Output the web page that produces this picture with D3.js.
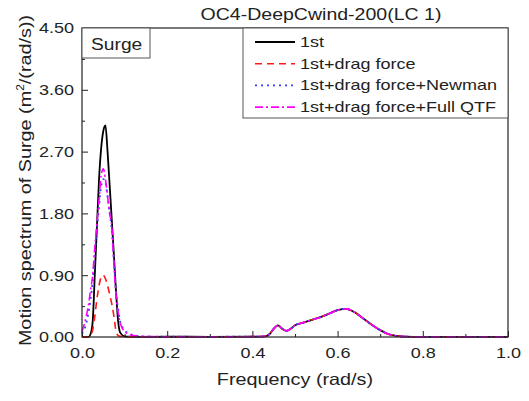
<!DOCTYPE html>
<html lang="en">
<head>
<meta charset="utf-8">
<title>OC4-DeepCwind-200(LC 1)</title>
<script src="https://cdn.jsdelivr.net/npm/d3@7"></script>
<style>
  body { margin: 0; background: #fff; }
  text { font-family: "Liberation Sans", Arial, sans-serif; fill: #222; }
</style>
</head>
<body>
<div id="chart"></div>
<script>
// frequency grid (rad/s): fine around the low-frequency peak, coarser later
var lowFreq  = [0, 0.01, 0.015, 0.02, 0.025, 0.03, 0.035, 0.04, 0.045, 0.05, 0.055,
                0.06, 0.065, 0.07, 0.075, 0.08, 0.085, 0.09, 0.1, 0.11, 0.12, 0.14];
var highFreq = [0.2, 0.3, 0.4, 0.43, 0.44, 0.45, 0.46, 0.47, 0.48, 0.49, 0.5, 0.52, 0.54,
                0.56, 0.58, 0.6, 0.62, 0.64, 0.66, 0.68, 0.7, 0.72, 0.74, 0.76, 0.8, 0.9, 1.0];

// spectrum values
var firstLow   = [0, 0, 0, 0.04, 0.22, 0.9, 1.6, 2.3, 2.75, 3.0, 3.08,
                  2.7, 2.2, 1.7, 1.18, 0.65, 0.22, 0.06, 0.01, 0.005, 0.003, 0.002];
var dragLow    = [0, 0, 0, 0.02, 0.1, 0.3, 0.55, 0.75, 0.87, 0.9, 0.85,
                  0.75, 0.62, 0.48, 0.3, 0.08, 0.02, 0.01, 0.005, 0.003, 0.002, 0.002];
var newmanLow  = [0.05, 0.2, 0.35, 0.55, 0.8, 1.2, 1.55, 1.9, 2.2, 2.3, 2.25,
                  2.05, 1.8, 1.55, 1.1, 0.65, 0.4, 0.22, 0.1, 0.05, 0.03, 0.01];
var fullQtfLow = [0.08, 0.3, 0.46, 0.68, 0.9, 1.3, 1.65, 2.0, 2.35, 2.45, 2.3,
                  2.05, 1.8, 1.6, 1.05, 0.6, 0.35, 0.2, 0.08, 0.04, 0.02, 0.01];
// wave-frequency hump, the same for all four cases
var waveHump   = [0.004, 0.003, 0.005, 0.01, 0.04, 0.12, 0.17, 0.12, 0.09, 0.12, 0.17, 0.21, 0.25,
                  0.29, 0.34, 0.39, 0.41, 0.36, 0.27, 0.18, 0.1, 0.04, 0.015, 0.005, 0.002, 0.001, 0];

var seriesNames = ["1st", "1st+drag force", "1st+drag force+Newman", "1st+drag force+Full QTF"];
var xTicks = [0, 0.2, 0.4, 0.6, 0.8, 1.0];
var yTicks = [0, 0.9, 1.8, 2.7, 3.6, 4.5];

var styles = [
  {color: "#000000", dash: null,        width: 1.8},
  {color: "#ff1a1a", dash: "7,5",       width: 1.6},
  {color: "#3d3dff", dash: "2,4",       width: 1.8},
  {color: "#ff00ff", dash: "8,3,2,3",   width: 1.6}
];

var freq = lowFreq.concat(highFreq);
var series = [firstLow, dragLow, newmanLow, fullQtfLow].map(function(low, i) {
  return {name: seriesNames[i], values: low.concat(waveHump)};
});

var w = 529, h = 401;
var margin = {left: 82, right: 21, top: 28, bottom: 64};
var width = w - margin.left - margin.right;
var height = h - margin.top - margin.bottom;

var svg = d3.select("#chart").append("svg")
  .attr("width", w)
  .attr("height", h);

var g = svg.append("g")
  .attr("transform", "translate(" + margin.left + "," + margin.top + ")");

var x = d3.scaleLinear().domain([0, 1]).range([0, width]);
var y = d3.scaleLinear().domain([0, 4.5]).range([height, 0]);

// widen text along its run, the source font is broader than Arial
function stretch(sel, k) {
  sel.each(function() {
    var len = this.getComputedTextLength();
    this.setAttribute("textLength", len * k);
    this.setAttribute("lengthAdjust", "spacingAndGlyphs");
  });
}

// minor ticks
g.append("g")
  .attr("transform", "translate(0," + height + ")")
  .call(d3.axisBottom(x).tickValues(d3.range(0.1, 1, 0.2)).tickSize(-3).tickFormat(""))
  .call(function(a) { a.select(".domain").remove(); });
g.append("g")
  .call(d3.axisLeft(y).tickValues(d3.range(0.45, 4.5, 0.9)).tickSize(-3).tickFormat(""))
  .call(function(a) { a.select(".domain").remove(); });

// major ticks + labels
var xAxis = g.append("g")
  .attr("transform", "translate(0," + height + ")")
  .call(d3.axisBottom(x).tickValues(xTicks).tickSize(-6).tickPadding(10).tickFormat(d3.format(".1f")));
var yAxis = g.append("g")
  .call(d3.axisLeft(y).tickValues(yTicks).tickSize(-6).tickPadding(8).tickFormat(d3.format(".2f")));

[xAxis, yAxis].forEach(function(a) {
  a.select(".domain").remove();
  a.selectAll("text")
    .attr("font-family", "Liberation Sans, Arial, sans-serif")
    .attr("font-size", 15)
    .attr("fill", "#222");
});
g.selectAll(".tick line").attr("stroke", "#222").attr("stroke-width", 1);
stretch(xAxis.selectAll("text"), 1.2);
stretch(yAxis.selectAll("text"), 1.2);

// lines
var line = d3.line()
  .x(function(d, i) { return x(freq[i]); })
  .y(function(d) { return y(d); })
  .curve(d3.curveMonotoneX);

g.append("g").attr("clip-path", null)
  .selectAll("path")
  .data(series)
  .enter()
  .append("path")
  .attr("d", function(d) { return line(d.values); })
  .attr("fill", "none")
  .attr("stroke", function(d, i) { return styles[i].color; })
  .attr("stroke-width", function(d, i) { return styles[i].width; })
  .attr("stroke-dasharray", function(d, i) { return styles[i].dash; });

// frame
g.append("rect")
  .attr("width", width)
  .attr("height", height)
  .attr("fill", "none")
  .attr("stroke", "#222")
  .attr("stroke-width", 1.2);

// "Surge" tag box
g.append("rect")
  .attr("width", 68)
  .attr("height", 30)
  .attr("fill", "#fff")
  .attr("stroke", "#555")
  .attr("stroke-width", 1);
var tag = g.append("text")
  .attr("x", 9)
  .attr("y", 22)
  .attr("font-size", 16)
  .text("Surge");
stretch(tag, 1.2);

// legend
var lg = g.append("g").attr("transform", "translate(" + (243 - margin.left) + ",0)");
lg.append("rect")
  .attr("width", width - (243 - margin.left))
  .attr("height", 90)
  .attr("fill", "#fff")
  .attr("stroke", "#555")
  .attr("stroke-width", 1);

var items = lg.selectAll(".item")
  .data(series)
  .enter()
  .append("g")
  .attr("class", "item")
  .attr("transform", function(d, i) { return "translate(0," + (14 + i * 21.7) + ")"; });

items.append("line")
  .attr("x1", 12)
  .attr("x2", 52)
  .attr("stroke", function(d, i) { return styles[i].color; })
  .attr("stroke-width", function(d, i) { return styles[i].width; })
  .attr("stroke-dasharray", function(d, i) { return styles[i].dash; });

var labels = items.append("text")
  .attr("x", 57)
  .attr("y", 5)
  .attr("font-size", 15)
  .text(function(d) { return d.name; });
stretch(labels, 1.2);

// title
var title = svg.append("text")
  .attr("x", 321)
  .attr("y", 20)
  .attr("text-anchor", "middle")
  .attr("font-size", 16)
  .text("OC4-DeepCwind-200(LC 1)");
stretch(title, 1.22);

// axis titles
var xLabel = svg.append("text")
  .attr("x", margin.left + width / 2)
  .attr("y", 385)
  .attr("text-anchor", "middle")
  .attr("font-size", 16.5)
  .text("Frequency (rad/s)");
stretch(xLabel, 1.2);

var yLabel = svg.append("text")
  .attr("transform", "translate(31," + (margin.top + height / 2 - 2) + ") rotate(-90)")
  .attr("text-anchor", "middle")
  .attr("font-size", 16.5);
yLabel.append("tspan").text("Motion spectrum of Surge (m");
yLabel.append("tspan").attr("font-size", 10).attr("dy", -7).text("2");
yLabel.append("tspan").attr("dy", 7).text("/(rad/s))");
stretch(yLabel, 1.2);
</script>
</body>
</html>
